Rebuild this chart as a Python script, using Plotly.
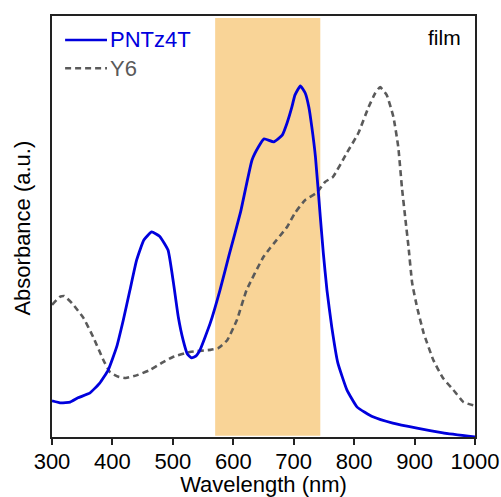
import plotly.graph_objects as go

# Absorption spectra of thin films (arbitrary units)
pntz4t_wl = [300, 315, 330, 343, 363, 379, 393, 407, 418, 429, 440, 452, 465, 478,
             492, 501, 509, 517, 524, 531, 538, 545, 562, 578, 593, 612, 631, 642,
             651, 667, 681, 689, 697, 702, 711, 719, 725, 730, 736, 744, 749, 755,
             763, 773, 788, 805, 831, 864, 904, 947, 1000]
pntz4t_abs = [8.6, 8.1, 8.3, 9.3, 10.5, 12.8, 15.9, 21.4, 27.8, 34.9, 42.0, 46.8, 48.7, 47.7,
              44.4, 36.6, 28.5, 23.0, 19.7, 18.8, 19.2, 20.7, 27.1, 34.9, 43.2, 53.4, 65.8, 69.0,
              70.8, 70.1, 71.7, 74.6, 78.4, 81.2, 83.4, 81.7, 78.4, 73.6, 66.5, 52.3, 43.7, 34.9,
              26.1, 17.6, 11.2, 7.1, 4.8, 3.3, 2.1, 1.0, 0.0]

y6_wl = [300, 313, 320, 333, 352, 368, 385, 396, 410, 422, 441, 462, 484, 500, 528,
         562, 575, 590, 606, 622, 650, 661, 689, 702, 719, 738, 752, 765, 788, 807,
         824, 835, 843, 854, 865, 873, 879, 885, 890, 896, 904, 915, 931, 947, 964,
         981, 1000]
y6_abs = [31.4, 33.3, 33.5, 31.8, 28.3, 23.8, 18.3, 15.4, 14.3, 14.0, 14.7, 15.9, 17.8, 19.0, 20.2,
          20.7, 21.1, 23.0, 27.8, 34.9, 42.8, 44.9, 49.9, 53.2, 56.3, 58.0, 60.6, 61.8, 67.5, 72.2,
          78.4, 81.7, 83.1, 81.2, 76.0, 68.9, 59.4, 51.5, 45.1, 36.6, 30.9, 24.7, 18.3, 14.0, 11.2,
          8.3, 7.4]

# Highlighted wavelength window
band_start, band_end = 570, 744

x_ticks = [300, 400, 500, 600, 700, 800, 900, 1000]

series_names = ["PNTz4T", "Y6"]
series_colors = ["#0000DD", "#5a5a5a"]

FONT = "Liberation Sans, Arial, sans-serif"

fig = go.Figure()

fig.add_shape(type="rect", xref="x", yref="y domain",
              x0=band_start, x1=band_end, y0=0.003, y1=0.995,
              fillcolor="#F9D497", line=dict(width=0), layer="below")

fig.add_trace(go.Scatter(x=y6_wl, y=y6_abs, mode="lines", name=series_names[1],
                         line=dict(color=series_colors[1], width=2.6, dash="6px,4px",
                                   shape="spline", smoothing=0.4),
                         showlegend=False))
fig.add_trace(go.Scatter(x=pntz4t_wl, y=pntz4t_abs, mode="lines", name=series_names[0],
                         line=dict(color=series_colors[0], width=2.8,
                                   shape="spline", smoothing=0.4),
                         showlegend=False))

# Legend drawn as short line samples with coloured labels
legend_rows = [0.943, 0.876]
for name, color, yrow, dash in zip(series_names, series_colors, legend_rows,
                                   ["solid", "6px,4px"]):
    fig.add_shape(type="line", xref="paper", yref="paper",
                  x0=0.031, x1=0.130, y0=yrow, y1=yrow,
                  line=dict(color=color, width=2.6, dash=dash))
    fig.add_annotation(xref="paper", yref="paper", x=0.133, y=yrow,
                       text=name, showarrow=False, xanchor="left", yanchor="middle",
                       font=dict(family=FONT, size=22, color=color))

fig.add_annotation(xref="paper", yref="paper", x=0.972, y=0.948, text="film",
                   showarrow=False, xanchor="right", yanchor="middle",
                   font=dict(family=FONT, size=21, color="black"))

# Vertical axis label
fig.add_annotation(xref="paper", yref="paper", x=-0.069, y=0.497,
                   text="Absorbance (a.u.)", textangle=-90, showarrow=False,
                   xanchor="center", yanchor="middle",
                   font=dict(family=FONT, size=22, color="black"))

fig.update_layout(
    width=501, height=497,
    margin=dict(l=52, r=26, t=16, b=60),
    paper_bgcolor="white", plot_bgcolor="white",
    font=dict(family=FONT, size=22, color="black"),
    showlegend=False,
)
fig.update_xaxes(
    range=[300, 1000], tickvals=x_ticks, ticktext=[str(v) for v in x_ticks],
    showgrid=False, zeroline=False,
    showline=True, mirror=True, linecolor="#222222", linewidth=1.5,
    ticks="outside", ticklen=6, tickwidth=1.5, tickcolor="#222222",
    ticklabelstandoff=-2,
    tickfont=dict(family=FONT, size=22, color="black"),
    title=dict(text="Wavelength (nm)", standoff=8,
               font=dict(family=FONT, size=22, color="black")),
    automargin=False,
)
fig.update_yaxes(
    range=[0, 100], showticklabels=False, ticks="",
    showgrid=False, zeroline=False,
    showline=True, mirror=True, linecolor="#222222", linewidth=1.5,
    automargin=False,
)

fig.write_html("out.html")
